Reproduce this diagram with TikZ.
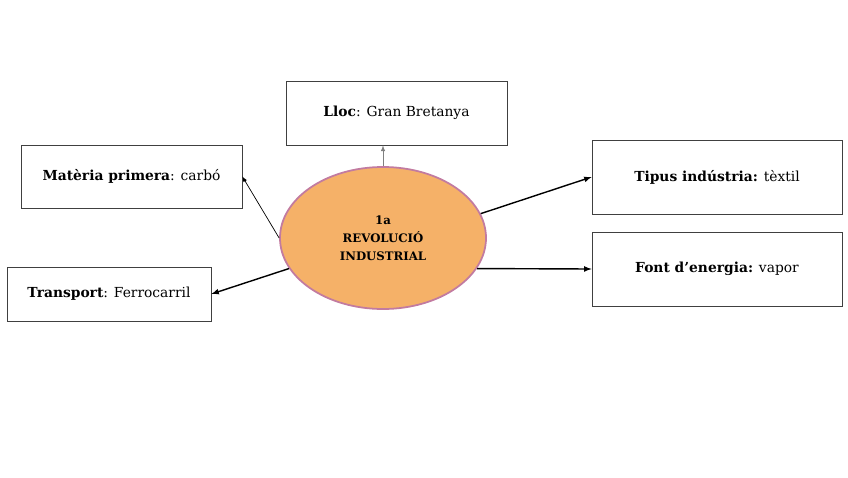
\documentclass[tikz,border=0pt]{standalone}
\usepackage{fontspec}
\setmainfont{DejaVu Serif}
\usetikzlibrary{shapes.geometric}
\definecolor{revfill}{RGB}{245,177,104}
\definecolor{revline}{RGB}{194,123,160}
\begin{document}
\begin{tikzpicture}[x=0.03cm, y=-0.03cm,
  infobox/.style={draw=black!75, line width=0.6pt, minimum height=#1*0.03cm, inner sep=0pt, font=\fontsize{11.8}{14}\selectfont},
  infobox/.default=64,
  link/.style={-latex, line width=1.2pt}]
\useasboundingbox (0,0) rectangle (848,477);
\node[ellipse, draw=revline, line width=1.5pt, fill=revfill, minimum width=206*0.03cm, minimum height=142*0.03cm, align=center, font=\bfseries\fontsize{10}{15.5}\selectfont] (rev) at (383,238){1a\\REVOLUCIÓ\\INDUSTRIAL};
\node[infobox=64, minimum width=221*0.03cm] (lloc) at (396.5,113){\textbf{Lloc}: Gran Bretanya};
\node[infobox=63, minimum width=221*0.03cm] (mat) at (131.5,176.5){\textbf{Matèria primera}: carbó};
\node[infobox=54, minimum width=204*0.03cm] (trans) at (109,294){\textbf{Transport}: Ferrocarril};
\node[infobox=74, minimum width=250*0.03cm] (tip) at (717,177){\textbf{Tipus indústria:} tèxtil};
\node[infobox=74, minimum width=250*0.03cm] (font) at (717,269){\textbf{Font d'energia:} vapor};
\draw[-latex, gray, line width=0.7pt](rev.north) -- (rev.north |- lloc.south);
\draw[-latex, line width=0.6pt](rev.180) -- (mat.east);
\draw[link](rev.198) -- (trans.east);
\draw[link](rev.14) -- (tip.west);
\draw[link](rev.-18) -- (font.west);

\end{tikzpicture}
\end{document}
